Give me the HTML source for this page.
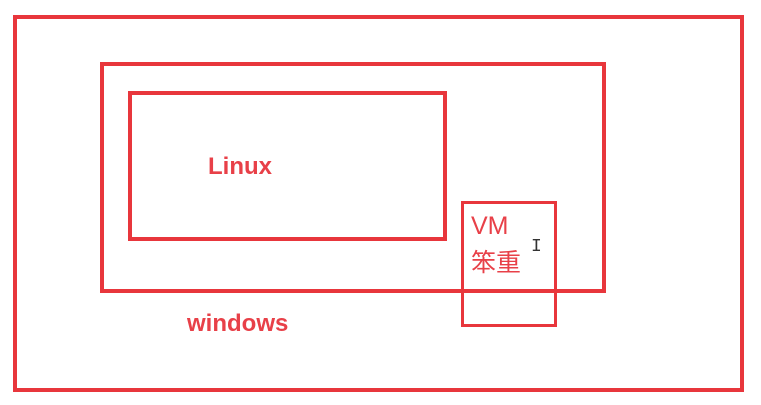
<!DOCTYPE html>
<html><head><meta charset="utf-8"><style>
body{margin:0;width:761px;height:405px;background:#fff;overflow:hidden;position:relative;font-family:"Liberation Sans","Noto Sans CJK SC",sans-serif;}
.r{position:absolute;border:4px solid #e8363c;box-sizing:border-box;}
.t{position:absolute;color:#e84048;line-height:1;}
</style></head><body>
<div class="r" style="left:13px;top:15px;width:731px;height:377px"></div>
<div class="r" style="left:100px;top:62px;width:506px;height:231px"></div>
<div class="r" style="left:128px;top:91px;width:319px;height:150px"></div>
<div class="r" style="left:461px;top:201px;width:96px;height:126px;border-width:3px"></div>
<div class="t" style="left:208px;top:155px;font-weight:bold;font-size:24px">Linux</div>
<div class="t" style="left:187px;top:312px;font-weight:bold;font-size:24px">windows</div>
<div class="t" style="left:471px;top:214px;font-size:25px">VM</div>
<div class="t" style="left:471px;top:251px;font-size:25px">笨重</div>
<div style="position:absolute;left:531px;top:237px;font-size:18px;color:#333;font-family:'Liberation Mono',monospace">I</div>
</body></html>
